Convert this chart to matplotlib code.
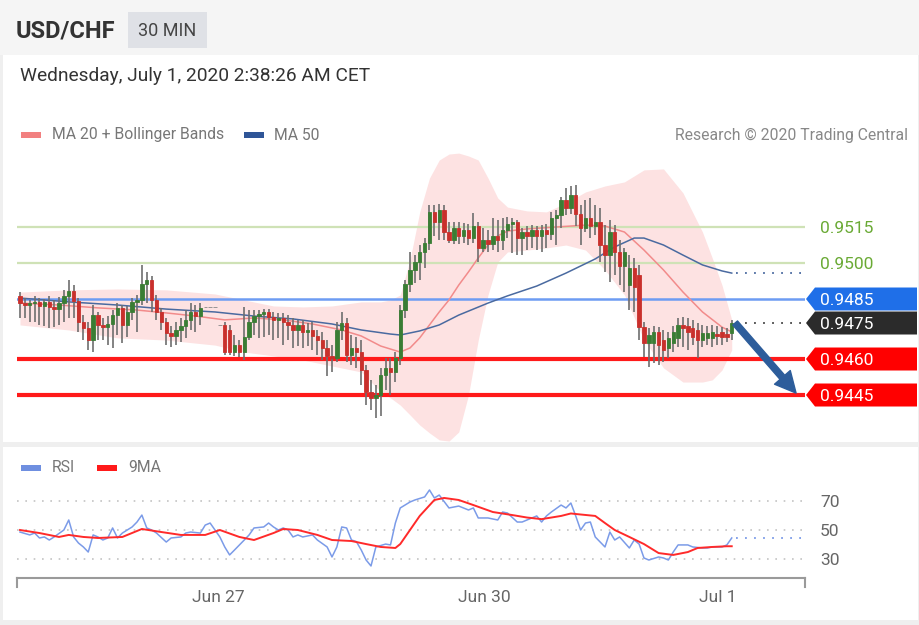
import numpy as np
import matplotlib
matplotlib.use("Agg")
import matplotlib.pyplot as plt
from matplotlib.patches import Rectangle, Polygon
from matplotlib.transforms import IdentityTransform

plt.rcParams['font.family'] = ['Roboto', 'DejaVu Sans']

W, H = 920, 625

# 30 min candles, USD/CHF
opens = [
    0.94863, 0.94833, 0.94825, 0.94833, 0.94838, 0.94821, 0.94838, 0.94817, 0.94808, 0.94833,
    0.94863, 0.94883, 0.94842, 0.94754, 0.94729, 0.94679, 0.94783, 0.94742, 0.94733, 0.94746,
    0.94783, 0.94813, 0.94742, 0.94796, 0.94838, 0.94846, 0.94913, 0.94929, 0.94846, 0.94796,
    0.94754, 0.94708, 0.94696, 0.94721, 0.94738, 0.94763, 0.94796, 0.94779, 0.94817, 0.94817,
    0.94817, 0.94742, 0.94742, 0.94721, 0.94629, 0.94658, 0.94629, 0.94692, 0.94754, 0.94779,
    0.94788, 0.94796, 0.94775, 0.94763, 0.94771, 0.94754, 0.94742, 0.94721, 0.94742, 0.94713,
    0.94721, 0.94696, 0.94679, 0.94646, 0.94613, 0.94604, 0.94721, 0.94750, 0.94617, 0.94646,
    0.94629, 0.94554, 0.94463, 0.94438, 0.94450, 0.94533, 0.94563, 0.94546, 0.94604, 0.94804,
    0.94913, 0.94971, 0.95004, 0.95046, 0.95083, 0.95213, 0.95171, 0.95221, 0.95129, 0.95096,
    0.95146, 0.95113, 0.95138, 0.95104, 0.95154, 0.95063, 0.95096, 0.95079, 0.95113, 0.95096,
    0.95138, 0.95163, 0.95171, 0.95104, 0.95129, 0.95113, 0.95138, 0.95113, 0.95138, 0.95121,
    0.95188, 0.95200, 0.95263, 0.95229, 0.95283, 0.95204, 0.95146, 0.95188, 0.95154, 0.95171,
    0.95075, 0.95033, 0.95129, 0.95046, 0.94988, 0.94908, 0.94979, 0.94950, 0.94733, 0.94667,
    0.94667, 0.94713, 0.94679, 0.94646, 0.94667, 0.94688, 0.94742, 0.94738, 0.94729, 0.94721,
    0.94679, 0.94688, 0.94688, 0.94704, 0.94713, 0.94704, 0.94708]
highs = [
    0.94879, 0.94854, 0.94846, 0.94863, 0.94854, 0.94850, 0.94863, 0.94846, 0.94858, 0.94888,
    0.94929, 0.94908, 0.94854, 0.94783, 0.94754, 0.94825, 0.94796, 0.94771, 0.94779, 0.94804,
    0.94833, 0.94825, 0.94821, 0.94854, 0.94867, 0.94992, 0.94963, 0.94946, 0.94867, 0.94813,
    0.94771, 0.94738, 0.94754, 0.94771, 0.94804, 0.94833, 0.94825, 0.94833, 0.94817, 0.94817,
    0.94817, 0.94742, 0.94754, 0.94742, 0.94700, 0.94679, 0.94817, 0.94804, 0.94804, 0.94804,
    0.94808, 0.94808, 0.94796, 0.94792, 0.94792, 0.94783, 0.94771, 0.94763, 0.94763, 0.94750,
    0.94754, 0.94721, 0.94713, 0.94679, 0.94658, 0.94754, 0.94796, 0.94771, 0.94700, 0.94692,
    0.94679, 0.94575, 0.94513, 0.94492, 0.94563, 0.94604, 0.94604, 0.94629, 0.94825, 0.94929,
    0.95046, 0.95033, 0.95075, 0.95104, 0.95242, 0.95242, 0.95246, 0.95242, 0.95171, 0.95171,
    0.95171, 0.95167, 0.95163, 0.95208, 0.95171, 0.95146, 0.95138, 0.95188, 0.95179, 0.95188,
    0.95192, 0.95188, 0.95179, 0.95146, 0.95154, 0.95158, 0.95154, 0.95158, 0.95163, 0.95213,
    0.95221, 0.95275, 0.95313, 0.95321, 0.95325, 0.95242, 0.95263, 0.95271, 0.95242, 0.95229,
    0.95158, 0.95179, 0.95158, 0.95096, 0.95063, 0.95033, 0.95021, 0.94992, 0.94754, 0.94729,
    0.94738, 0.94733, 0.94721, 0.94713, 0.94738, 0.94771, 0.94775, 0.94771, 0.94763, 0.94750,
    0.94742, 0.94738, 0.94742, 0.94738, 0.94733, 0.94729, 0.94763]
lows = [
    0.94771, 0.94771, 0.94754, 0.94754, 0.94742, 0.94738, 0.94729, 0.94733, 0.94742, 0.94754,
    0.94771, 0.94771, 0.94713, 0.94679, 0.94638, 0.94629, 0.94679, 0.94679, 0.94658, 0.94646,
    0.94700, 0.94667, 0.94692, 0.94763, 0.94713, 0.94825, 0.94833, 0.94796, 0.94763, 0.94721,
    0.94658, 0.94650, 0.94658, 0.94671, 0.94688, 0.94721, 0.94713, 0.94742, 0.94817, 0.94817,
    0.94817, 0.94742, 0.94617, 0.94617, 0.94613, 0.94608, 0.94596, 0.94679, 0.94700, 0.94688,
    0.94692, 0.94700, 0.94679, 0.94688, 0.94658, 0.94679, 0.94646, 0.94654, 0.94646, 0.94654,
    0.94638, 0.94617, 0.94596, 0.94529, 0.94546, 0.94588, 0.94679, 0.94588, 0.94575, 0.94563,
    0.94492, 0.94408, 0.94388, 0.94354, 0.94363, 0.94471, 0.94450, 0.94504, 0.94575, 0.94771,
    0.94879, 0.94917, 0.94929, 0.94979, 0.95054, 0.95113, 0.95096, 0.95096, 0.95083, 0.95079,
    0.95079, 0.95083, 0.95075, 0.95083, 0.95004, 0.95046, 0.95046, 0.95054, 0.95046, 0.95054,
    0.95104, 0.95042, 0.95033, 0.95033, 0.95054, 0.95063, 0.95054, 0.95046, 0.95063, 0.95096,
    0.95075, 0.95146, 0.95200, 0.95204, 0.95154, 0.95075, 0.95129, 0.95104, 0.95117, 0.95004,
    0.94963, 0.94921, 0.94950, 0.94908, 0.94879, 0.94804, 0.94796, 0.94679, 0.94608, 0.94567,
    0.94583, 0.94575, 0.94588, 0.94604, 0.94629, 0.94650, 0.94650, 0.94638, 0.94658, 0.94604,
    0.94650, 0.94658, 0.94650, 0.94658, 0.94658, 0.94671, 0.94679]
closes = [
    0.94833, 0.94825, 0.94833, 0.94838, 0.94821, 0.94838, 0.94817, 0.94808, 0.94833, 0.94863,
    0.94883, 0.94842, 0.94754, 0.94729, 0.94679, 0.94783, 0.94742, 0.94733, 0.94746, 0.94783,
    0.94813, 0.94742, 0.94796, 0.94838, 0.94846, 0.94913, 0.94929, 0.94846, 0.94796, 0.94754,
    0.94708, 0.94696, 0.94721, 0.94738, 0.94763, 0.94796, 0.94779, 0.94813, 0.94817, 0.94817,
    0.94817, 0.94742, 0.94629, 0.94629, 0.94658, 0.94629, 0.94692, 0.94754, 0.94779, 0.94788,
    0.94796, 0.94775, 0.94763, 0.94771, 0.94754, 0.94742, 0.94721, 0.94742, 0.94713, 0.94721,
    0.94696, 0.94679, 0.94646, 0.94613, 0.94604, 0.94721, 0.94750, 0.94617, 0.94646, 0.94629,
    0.94554, 0.94463, 0.94438, 0.94450, 0.94533, 0.94563, 0.94546, 0.94604, 0.94804, 0.94913,
    0.94971, 0.95004, 0.95046, 0.95083, 0.95213, 0.95171, 0.95221, 0.95129, 0.95096, 0.95146,
    0.95113, 0.95138, 0.95104, 0.95154, 0.95063, 0.95096, 0.95079, 0.95113, 0.95096, 0.95138,
    0.95163, 0.95171, 0.95104, 0.95129, 0.95113, 0.95138, 0.95113, 0.95138, 0.95121, 0.95188,
    0.95200, 0.95263, 0.95229, 0.95283, 0.95204, 0.95146, 0.95188, 0.95154, 0.95171, 0.95075,
    0.95033, 0.95129, 0.95046, 0.94988, 0.95046, 0.94979, 0.94900, 0.94733, 0.94667, 0.94700,
    0.94713, 0.94658, 0.94638, 0.94688, 0.94713, 0.94742, 0.94729, 0.94713, 0.94692, 0.94679,
    0.94708, 0.94708, 0.94713, 0.94696, 0.94692, 0.94692, 0.94750]

# indicators, read at sampled bars
ma20_bars = [0, 8, 16, 24, 30, 36, 42, 48, 54, 60, 66, 70, 74, 78, 80, 82, 84, 86, 88, 90,
             92, 94, 96, 98, 100, 104, 110, 116, 120, 124, 128, 132, 136, 140, 144, 146]
ma20_vals = [0.94833, 0.94825, 0.94813, 0.94804, 0.94792, 0.94779, 0.94763, 0.94771, 0.94763, 0.94746,
             0.94721, 0.94696, 0.94654, 0.94629, 0.94646, 0.94688, 0.94742, 0.94796, 0.94846, 0.94908,
             0.94963, 0.95021, 0.95075, 0.95113, 0.95133, 0.95142, 0.95150, 0.95158, 0.95154, 0.95129,
             0.95054, 0.94971, 0.94879, 0.94796, 0.94733, 0.94713]
bb_bars = [0, 10, 20, 30, 40, 46, 52, 58, 64, 70, 74, 76, 78, 80, 82, 84, 86, 88, 90, 92,
           94, 96, 98, 100, 104, 108, 112, 116, 120, 124, 128, 132, 136, 140, 142, 144, 146]
bb_upper = [0.94879, 0.94888, 0.94892, 0.94888, 0.94871, 0.94846, 0.94821, 0.94817, 0.94821, 0.94838,
            0.94838, 0.94846, 0.94867, 0.95013, 0.95213, 0.95354, 0.95429, 0.95454, 0.95458, 0.95446,
            0.95429, 0.95354, 0.95271, 0.95233, 0.95217, 0.95213, 0.95250, 0.95296, 0.95321, 0.95338,
            0.95388, 0.95392, 0.95292, 0.95129, 0.95021, 0.94908, 0.94763]
bb_lower = [0.94742, 0.94721, 0.94688, 0.94679, 0.94658, 0.94629, 0.94613, 0.94596, 0.94571, 0.94546,
            0.94463, 0.94438, 0.94408, 0.94367, 0.94325, 0.94292, 0.94263, 0.94258, 0.94296, 0.94450,
            0.94679, 0.94867, 0.95004, 0.95046, 0.95054, 0.95063, 0.95075, 0.95054, 0.94971, 0.94867,
            0.94679, 0.94563, 0.94504, 0.94504, 0.94513, 0.94554, 0.94638]
ma50_bars = [0, 10, 20, 30, 40, 48, 56, 64, 70, 76, 78, 82, 86, 90, 96, 100, 106, 112, 118, 122,
             126, 128, 132, 136, 140, 144, 146]
ma50_vals = [0.94854, 0.94838, 0.94825, 0.94808, 0.94796, 0.94779, 0.94767, 0.94746, 0.94721, 0.94704,
             0.94700, 0.94717, 0.94742, 0.94783, 0.94833, 0.94863, 0.94904, 0.94958, 0.95017, 0.95067,
             0.95104, 0.95104, 0.95075, 0.95033, 0.94992, 0.94967, 0.94958]

rsi_bars = [0, 2, 3, 4, 5, 6, 7, 9, 10, 11, 12, 13, 14, 15, 16, 17, 18, 19, 20, 21,
            22, 23, 24, 25, 26, 27, 28, 30, 31, 33, 34, 35, 37, 38, 39, 40, 41, 42, 43, 44,
            46, 47, 48, 50, 51, 52, 53, 54, 55, 56, 57, 58, 60, 61, 63, 64, 65, 66, 67, 68,
            69, 70, 71, 72, 73, 75, 76, 77, 78, 80, 81, 83, 84, 85, 86, 88, 90, 92, 93, 94,
            96, 98, 99, 100, 102, 103, 105, 106, 107, 108, 109, 111, 112, 113, 114, 115, 116, 117, 118, 120,
            121, 122, 123, 125, 126, 127, 128, 129, 131, 132, 133, 134, 135, 137, 138, 140, 141, 142, 144, 145,
            146]
rsi_vals = [48.6, 46.6, 47.9, 44.5, 45.2, 43.1, 45.2, 50.0, 56.9, 45.2, 41.0, 38.3, 34.8, 46.6, 45.2, 43.1, 44.5, 51.4, 44.5, 47.9,
            50.0, 52.1, 55.5, 60.3, 51.4, 50.0, 47.9, 41.7, 44.5, 45.2, 47.9, 48.6, 47.9, 53.4, 54.8, 50.0, 45.2, 38.3, 32.8, 36.2,
            43.1, 46.6, 51.4, 52.1, 54.8, 52.1, 50.0, 51.4, 50.0, 45.2, 46.6, 45.2, 46.6, 43.1, 38.3, 31.4, 38.3, 52.1, 51.4, 43.1,
            42.0, 36.2, 29.3, 25.2, 38.3, 40.3, 39.7, 54.8, 65.2, 69.3, 70.7, 72.8, 77.6, 72.1, 74.1, 65.2, 66.5, 63.8, 65.2, 58.3,
            58.3, 56.9, 62.4, 61.7, 55.5, 55.5, 58.3, 59.7, 55.5, 59.7, 62.4, 67.2, 65.2, 68.6, 59.7, 50.0, 54.8, 55.5, 45.2, 38.3,
            48.6, 43.1, 45.2, 37.6, 43.1, 40.3, 30.7, 29.3, 31.4, 30.7, 29.3, 34.8, 39.7, 39.7, 38.3, 37.6, 37.6, 38.3, 38.3, 39.7,
            44.5]
ma9_bars = [0, 4, 8, 10, 13, 16, 21, 25, 29, 33, 38, 41, 45, 48, 52, 54, 57, 61, 64, 68,
            71, 74, 77, 78, 80, 82, 85, 87, 90, 93, 97, 101, 104, 107, 111, 113, 115, 118, 120, 122,
            125, 128, 131, 134, 137, 139, 142, 145, 146]
ma9_vals = [50.0, 47.9, 45.2, 46.6, 45.2, 44.5, 45.2, 50.7, 48.6, 46.6, 46.6, 50.0, 45.2, 43.1, 47.9, 50.7, 50.0, 46.6, 43.1, 42.4,
            40.3, 38.3, 37.6, 40.3, 50.0, 59.7, 70.7, 72.1, 70.7, 67.2, 62.4, 60.3, 58.6, 57.5, 59.7, 61.4, 60.7, 59.7, 54.8, 50.0,
            45.2, 40.3, 34.1, 32.8, 34.8, 37.6, 38.3, 38.8, 38.8]

resistances = [0.9515, 0.9500]
pivot = 0.9485
supports = [0.9460, 0.9445]
rsi_levels = [70, 50, 30]
date_ticks = [40.6, 95.2, 143.2]
date_labels = ['Jun 27', 'Jun 30', 'Jul 1']


def fx(x):
    return x / W


def fy(y):
    return 1 - y / H


def panel(x0, y0, x1, y1, color):
    fig.add_artist(Rectangle((fx(x0), fy(y1)), fx(x1) - fx(x0), fy(y0) - fy(y1),
                             transform=fig.transFigure, facecolor=color,
                             edgecolor='none', zorder=-5))


fig = plt.figure(figsize=(W / 100, H / 100), dpi=100)
fig.patch.set_facecolor('#efefef')
panel(0, 0, 920, 55, '#f5f5f5')
panel(3, 55, 918, 442, 'white')
panel(3, 447, 918, 620, 'white')

# header
fig.text(fx(16), fy(31), 'USD/CHF', fontsize=17, fontweight='bold', color='#333333', va='center')
panel(128, 12, 207, 48, '#dfe1e6')
fig.text(fx(167.5), fy(31), '30 MIN', fontsize=13, color='#444444', ha='center', va='center')
fig.text(fx(20), fy(76), 'Wednesday, July 1, 2020 2:38:26 AM CET', fontsize=13.8,
         color='#333333', va='center')

# legend
panel(21, 132, 41, 138, '#f28080')
fig.text(fx(52), fy(135), 'MA 20 + Bollinger Bands', fontsize=11.3, color='#777777', va='center')
panel(244, 132, 264, 138, '#2f5597')
fig.text(fx(274), fy(135), 'MA 50', fontsize=11.3, color='#777777', va='center')
fig.text(fx(908), fy(135), 'Research \u00a9 2020 Trading Central', fontsize=11.3,
         color='#888888', va='center', ha='right')

n = len(closes)
idx = np.arange(n)
o = np.array(opens)
c = np.array(closes)
xmax = 161.03

ax = fig.add_axes([fx(17), fy(442), fx(805) - fx(17), fy(145) - fy(442)])
ax.set_xlim(-0.615, xmax)
ax.set_ylim(0.942542, 0.954917)
ax.axis('off')

ax.fill_between(bb_bars, bb_lower, bb_upper, color='#fde2e2', lw=0, zorder=1)
for lvl in resistances:
    ax.axhline(lvl, color='#cfe2b6', lw=1.6, zorder=2)
ax.axhline(pivot, color='#6d9cf3', lw=1.8, zorder=2)
for lvl in supports:
    ax.axhline(lvl, color='#ff1a1a', lw=3, zorder=2)

ax.plot(ma20_bars, ma20_vals, color='#f28b8b', lw=1.1, zorder=3)
ax.plot(ma50_bars, ma50_vals, color='#4a6aa0', lw=1.1, zorder=3)

colors = np.where(c > o, '#3a7d34', np.where(c < o, '#c9302c', '#888888'))
ax.vlines(idx, lows, highs, color='#6e6e6e', lw=1.2, zorder=4)
ax.bar(idx, c - o, bottom=o, width=0.7, color=colors, edgecolor=colors, lw=0.6, zorder=5)

ax.hlines(ma50_vals[-1], n - 0.2, xmax, color='#4a6aa0', lw=1.3, linestyles=(0, (1, 4)), zorder=3)
ax.hlines(closes[-1], n - 0.2, xmax, color='#444444', lw=1.3, linestyles=(0, (1, 4)), zorder=3)

ax.annotate('', xy=(n + 12.2, supports[-1] + 0.00008), xytext=(n - 0.3, closes[-1]),
            arrowprops=dict(arrowstyle='simple,head_length=1.0,head_width=1.0,tail_width=0.3',
                            mutation_scale=15, color='#2d5d9b', shrinkA=0, shrinkB=0),
            zorder=6)


def tag(level, text, face):
    yd = ax.transData.transform((0, level))[1]
    pts = [(806, yd), (815, yd + 11.5), (917, yd + 11.5), (917, yd - 11.5), (815, yd - 11.5)]
    fig.add_artist(Polygon(pts, closed=True, transform=IdentityTransform(),
                           facecolor=face, edgecolor='none', zorder=5))
    fig.text(820, yd, text, transform=IdentityTransform(), color='white',
             fontsize=12.5, va='center_baseline', zorder=6)


for lvl in resistances:
    yd = ax.transData.transform((0, lvl))[1]
    fig.text(820, yd, f'{lvl:.4f}', transform=IdentityTransform(), color='#6aaa35',
             fontsize=12.5, va='center_baseline')
tag(pivot, f'{pivot:.4f}', '#1f6fe8')
tag(closes[-1], f'{closes[-1]:.4f}', '#2b2b2b')
for lvl in supports:
    tag(lvl, f'{lvl:.4f}', '#ff0000')

# RSI panel
panel(21, 465, 41, 471, '#6f8fe0')
fig.text(fx(52), fy(468), 'RSI', fontsize=11.3, color='#777777', va='center')
panel(97, 465, 117, 471, '#ff1a1a')
fig.text(fx(128), fy(468), '9MA', fontsize=11.3, color='#777777', va='center')

ax2 = fig.add_axes([fx(17), fy(578), fx(805) - fx(17), fy(478) - fy(578)])
ax2.set_xlim(-0.615, xmax)
ax2.set_ylim(16.9, 85.86)
ax2.patch.set_alpha(0)
for s in ax2.spines.values():
    s.set_visible(False)
ax2.set_yticks([])
ax2.set_xticks(date_ticks)
ax2.set_xticklabels(date_labels)
ax2.tick_params(axis='x', length=0, pad=9, labelsize=12.5, labelcolor='#666666')

for v in rsi_levels:
    ax2.axhline(v, color='#c4c4c4', lw=1.2, ls=(0, (1, 4)), zorder=1)
    ax2.text(1.019, v, str(v), transform=ax2.get_yaxis_transform(), fontsize=12.5,
             color='#666666', va='center_baseline')

ax2.plot(rsi_bars, rsi_vals, color='#7b9be8', lw=1.1, zorder=3)
ax2.plot(ma9_bars, ma9_vals, color='#ff2a2a', lw=1.4, zorder=4)
ax2.hlines(rsi_vals[-1], n - 0.2, xmax, color='#7b9be8', lw=1.3, linestyles=(0, (1, 4)), zorder=2)

ax2.plot([0, 1], [0, 0], transform=ax2.transAxes, color='#9a9a9a', lw=1.5, clip_on=False)
for xe in (0, 1):
    ax2.plot([xe, xe], [0, -0.09], transform=ax2.transAxes, color='#9a9a9a', lw=1.5, clip_on=False)

fig.savefig('out.png', dpi=100, facecolor=fig.get_facecolor())
